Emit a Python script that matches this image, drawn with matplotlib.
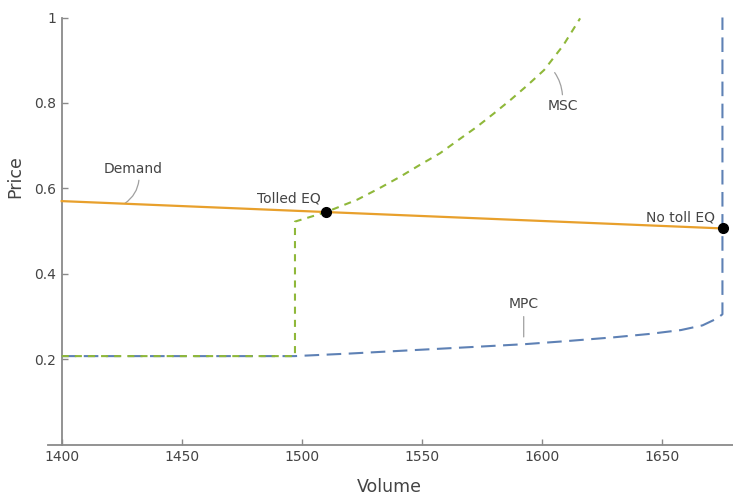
import matplotlib
matplotlib.use("Agg")
import matplotlib.pyplot as plt

# ---- data ----
demand_v = [1400, 1675.4]
demand_p = [0.570, 0.506]

mpc_v = [1400, 1497, 1520, 1546.5, 1570, 1593, 1610, 1630, 1645, 1658, 1667, 1673, 1675.3, 1675.3]
mpc_p = [0.207, 0.207, 0.213, 0.221, 0.228, 0.235, 0.242, 0.251, 0.259, 0.268, 0.279, 0.295, 0.305, 1.0]

msc_v = [1400, 1497.2, 1497.2, 1510, 1523, 1532, 1541, 1549, 1557.6, 1565, 1573, 1580, 1587, 1594, 1601, 1609, 1616]
msc_p = [0.207, 0.207, 0.522, 0.544, 0.573, 0.599, 0.627, 0.654, 0.682, 0.712, 0.744, 0.775, 0.807, 0.841, 0.877, 0.935, 0.998]

eq_v = [1510, 1675.4]
eq_p = [0.5445, 0.506]

x_ticks = [1400, 1450, 1500, 1550, 1600, 1650]
y_ticks = [0.2, 0.4, 0.6, 0.8, 1.0]
y_tick_labels = ["0.2", "0.4", "0.6", "0.8", "1"]

BLUE = "#5E81B5"
ORANGE = "#E8A02C"
GREEN = "#8FB83A"
AXIS = "#8a8a8a"
TXT = "#444444"
CALL = "#a0a0a0"

fig = plt.figure(figsize=(7.33, 4.96), dpi=100)
ax = fig.add_axes([48 / 733, 51.5 / 496, 685 / 733, 427 / 496])
ax.set_xlim(1394.3, 1679.7)
ax.set_ylim(0, 1.0)

for s in ["top", "right"]:
    ax.spines[s].set_visible(False)
ax.spines["left"].set_position(("data", 1400))
ax.spines["bottom"].set_position(("data", 0))
for s in ["left", "bottom"]:
    ax.spines[s].set_color(AXIS)
    ax.spines[s].set_linewidth(1.3)

ax.set_xticks(x_ticks)
ax.set_xticklabels([str(t) for t in x_ticks])
ax.set_yticks(y_ticks)
ax.set_yticklabels(y_tick_labels)
ax.tick_params(direction="in", length=4.5, width=1.0, color=AXIS,
               labelcolor=TXT, labelsize=10, pad=4)

# curves
ax.plot(mpc_v, mpc_p, color=BLUE, lw=1.5, dashes=(7.0, 3.6), zorder=3, clip_on=False)
ax.plot(msc_v, msc_p, color=GREEN, lw=1.5, dashes=(3.4, 2.9), zorder=4, clip_on=False)
ax.plot(demand_v, demand_p, color=ORANGE, lw=1.6, zorder=5, clip_on=False)
ax.plot(eq_v, eq_p, "o", color="black", ms=7, zorder=6, clip_on=False)

# labels
ax.annotate("Demand", xy=(1426.3, 0.5645), xytext=(1429.8, 0.645),
            ha="center", va="center", fontsize=10, color=TXT,
            arrowprops=dict(arrowstyle="-", color=CALL, lw=0.9, shrinkA=1, shrinkB=0,
                            relpos=(0.6, 0.0),
                            connectionstyle="angle3,angleA=90,angleB=35"))
ax.text(1494.8, 0.5766, "Tolled EQ", ha="center", va="center", fontsize=10, color=TXT)
ax.text(1657.8, 0.531, "No toll EQ", ha="center", va="center", fontsize=10, color=TXT)
ax.annotate("MSC", xy=(1605.4, 0.871), xytext=(1608.7, 0.793),
            ha="center", va="center", fontsize=10, color=TXT,
            arrowprops=dict(arrowstyle="-", color=CALL, lw=0.9, shrinkA=1, shrinkB=0,
                            relpos=(0.5, 1.0),
                            connectionstyle="angle3,angleA=90,angleB=-55"))
ax.annotate("MPC", xy=(1592.5, 0.252), xytext=(1592.5, 0.329),
            ha="center", va="center", fontsize=10, color=TXT,
            arrowprops=dict(arrowstyle="-", color=CALL, lw=0.9, shrinkA=2, shrinkB=0,
                            relpos=(0.5, 0.0)))

fig.text(389 / 733, 1 - 487 / 496, "Volume", ha="center", va="center",
         fontsize=12.5, color=TXT)
fig.text(15 / 733, 1 - 177 / 496, "Price", ha="center", va="center",
         rotation=90, fontsize=12.5, color=TXT)

fig.savefig("out.png", dpi=100)
